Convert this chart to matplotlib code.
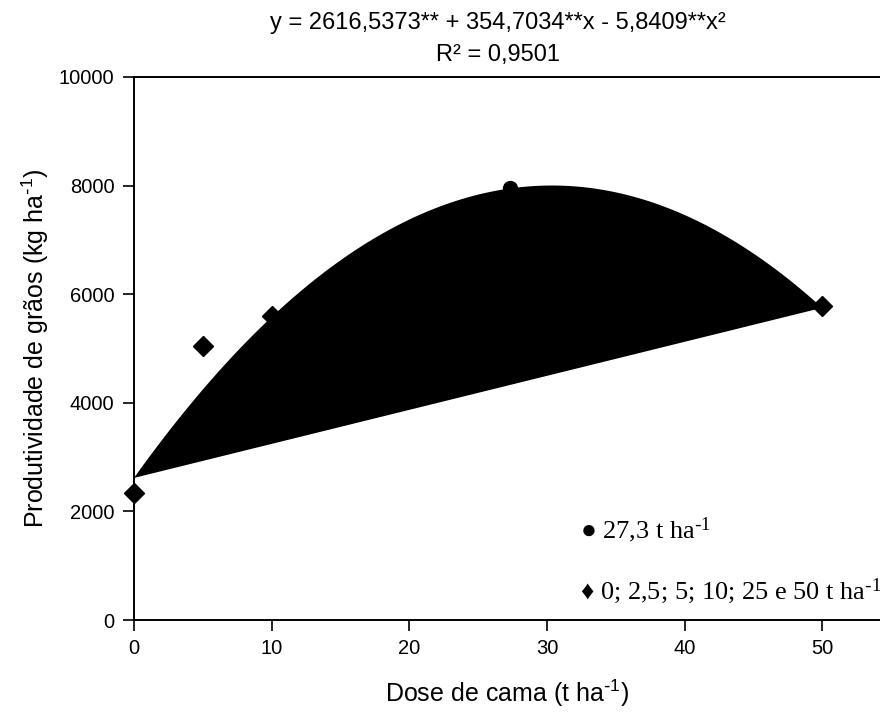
"""Grain yield vs. poultry litter dose: fitted quadratic with observed means."""
import matplotlib
matplotlib.use("Agg")
import matplotlib.pyplot as plt
import numpy as np

dose_diamond = [0, 5, 10, 50]
yield_diamond = [2330, 5050, 5600, 5790]
dose_circle = [27.3]
yield_circle = [7950]

# regression coefficients y = b0 + b1*x + b2*x^2
b0, b1, b2 = 2616.5373, 354.7034, -5.8409
fit_range = (0, 50)

x_ticks = [0, 10, 20, 30, 40, 50]
y_ticks = [0, 2000, 4000, 6000, 8000, 10000]

SUP = "$\\mathregular{^{\\text{-}1}}$"
title_1 = "y = 2616,5373** + 354,7034**x - 5,8409**x²"
title_2 = "R² = 0,9501"
legend_1 = "● 27,3 t ha" + SUP
legend_2 = "♦ 0; 2,5; 5; 10; 25 e 50 t ha" + SUP

plt.rcParams["font.family"] = ["Liberation Sans", "DejaVu Sans"]

fig = plt.figure(figsize=(8.8, 7.19), dpi=100)
ax = fig.add_axes([134 / 880, 99 / 719, 746 / 880, 543 / 719])

xf = np.linspace(*fit_range, 300)
yf = b0 + b1 * xf + b2 * xf ** 2
ax.fill(xf, yf, color="black", lw=0, zorder=2)

ax.plot(dose_diamond, yield_diamond, "D", color="black", ms=10.5, zorder=3, clip_on=False)
ax.plot(dose_circle, yield_circle, "o", color="black", ms=10, zorder=3, clip_on=False)

ax.set_xlim(0, 54.2)
ax.set_ylim(0, 10000)
ax.set_xticks(x_ticks)
ax.set_yticks(y_ticks)
ax.tick_params(direction="out", length=8, width=1.2, labelsize=14.5, pad=6)
for side in ("left", "bottom", "top"):
    ax.spines[side].set_linewidth(1.4)
ax.spines["right"].set_visible(False)

ax.set_xlabel("Dose de cama (t ha" + SUP + ")", fontsize=18, labelpad=14)
ax.set_ylabel("Produtividade de grãos (kg ha" + SUP + ")", fontsize=18, labelpad=6)

fig.text(498 / 880, 1 - 23 / 719, title_1, ha="center", va="center", fontsize=17)
fig.text(498 / 880, 1 - 55 / 719, title_2, ha="center", va="center", fontsize=17)

serif = ["Liberation Serif", "DejaVu Sans"]
ax.text(0.598, 0.166, legend_1, transform=ax.transAxes, ha="left", va="center",
        fontsize=19, family=serif)
ax.text(0.598, 0.053, legend_2, transform=ax.transAxes, ha="left", va="center",
        fontsize=19, family=serif)

fig.savefig("out.png", dpi=100)
